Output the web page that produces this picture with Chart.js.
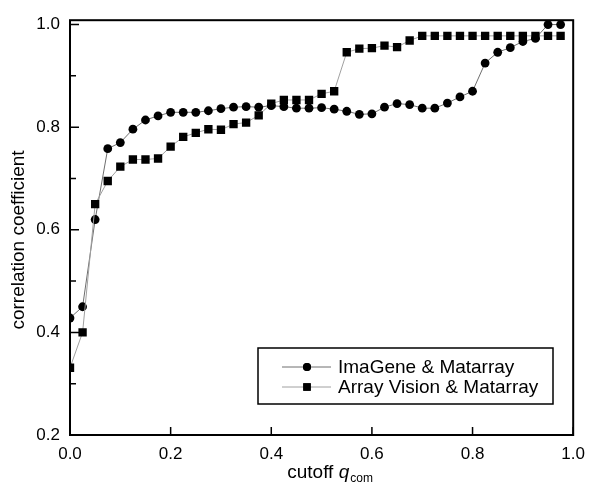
<!DOCTYPE html>
<html><head><meta charset="utf-8">
<script src="https://cdn.jsdelivr.net/npm/chart.js@4/dist/chart.umd.min.js"></script>
<style>html,body{margin:0;padding:0;background:#fff;}#wrap{width:594px;height:484px;position:relative;}</style>
</head><body><div id="wrap"><canvas id="c" width="594" height="484"></canvas></div>
<script>
const cutoffs = [0.000,0.025,0.050,0.075,0.100,0.125,0.150,0.175,0.200,0.225,0.250,0.275,0.300,0.325,0.350,0.375,0.400,0.425,0.450,0.475,0.500,0.525,0.550,0.575,0.600,0.625,0.650,0.675,0.700,0.725,0.750,0.775,0.800,0.825,0.850,0.875,0.900,0.925,0.950,0.975];
const imaGene = [0.428,0.450,0.620,0.758,0.770,0.796,0.814,0.822,0.829,0.829,0.829,0.832,0.836,0.839,0.840,0.839,0.842,0.840,0.837,0.837,0.838,0.835,0.831,0.825,0.826,0.839,0.846,0.844,0.837,0.837,0.847,0.859,0.870,0.925,0.946,0.955,0.967,0.973,1.000,1.000];
const arrayVision = [0.331,0.400,0.650,0.695,0.723,0.737,0.737,0.739,0.762,0.781,0.789,0.796,0.795,0.806,0.809,0.823,0.846,0.853,0.853,0.853,0.865,0.870,0.946,0.953,0.954,0.959,0.956,0.969,0.978,0.978,0.978,0.978,0.978,0.978,0.978,0.978,0.978,0.978,0.978,0.978];
const seriesNames = ['ImaGene & Matarray','Array Vision & Matarray'];
const xTicks = [0.0,0.2,0.4,0.6,0.8,1.0];
const yTicks = [0.2,0.4,0.6,0.8,1.0];
const yMinorTicks = [0.3,0.5,0.7,0.9];
const yTitle = 'correlation coefficient';
const xTitleParts = ['cutoff ', 'q', 'com'];

const FONT = "'Liberation Sans', Arial, sans-serif";
const lineColors = ['#6e6e6e', '#a0a0a0'];
const styles = ['circle', 'rect'];
const radii = [4.4, 5.9];

const framePlugin = {
  id: 'frame',
  afterDatasetsDraw(chart) {
    const {ctx, chartArea: a, scales} = chart;
    ctx.save();
    ctx.strokeStyle = '#000';
    ctx.lineWidth = 2;
    ctx.strokeRect(a.left, a.top, a.right - a.left, a.bottom - a.top);
    ctx.lineWidth = 1.5;
    ctx.beginPath();
    yTicks.forEach(v => { const y = scales.y.getPixelForValue(v); ctx.moveTo(a.left, y); ctx.lineTo(a.left + 9, y); });
    yMinorTicks.forEach(v => { const y = scales.y.getPixelForValue(v); ctx.moveTo(a.left, y); ctx.lineTo(a.left + 6, y); });
    xTicks.forEach(v => { const x = scales.x.getPixelForValue(v); ctx.moveTo(x, a.bottom); ctx.lineTo(x, a.bottom - 8); });
    ctx.stroke();

    // Legend
    const bx = 258, by = 348, bw = 295, bh = 56;
    ctx.lineWidth = 1.5;
    ctx.strokeRect(bx, by, bw, bh);
    const rows = [367, 387];
    ctx.font = '19px ' + FONT;
    ctx.fillStyle = '#000';
    ctx.textBaseline = 'middle';
    ctx.textAlign = 'left';
    seriesNames.forEach((name, i) => {
      const y = rows[i];
      ctx.strokeStyle = lineColors[i];
      ctx.lineWidth = 1;
      ctx.beginPath(); ctx.moveTo(282, y); ctx.lineTo(331, y); ctx.stroke();
      ctx.fillStyle = '#000';
      Chart.helpers.drawPoint(ctx, {pointStyle: styles[i], radius: i === 0 ? 4 : 5.3, borderWidth: 0}, 307, y);
      ctx.fill();
      ctx.fillText(name, 338, y + 1);
    });

    // Y title
    ctx.save();
    ctx.translate(19, 240);
    ctx.rotate(-Math.PI / 2);
    ctx.textAlign = 'center';
    ctx.textBaseline = 'middle';
    ctx.font = '19px ' + FONT;
    ctx.fillText(yTitle, 0, 0);
    ctx.restore();

    // X title
    const f1 = '19px ' + FONT, f2 = 'italic 19px ' + FONT, f3 = '12px ' + FONT;
    ctx.font = f1; const w1 = ctx.measureText(xTitleParts[0]).width;
    ctx.font = f2; const w2 = ctx.measureText(xTitleParts[1]).width;
    ctx.font = f3; const w3 = ctx.measureText(xTitleParts[2]).width;
    let x0 = (a.left + a.right) / 2 - (w1 + w2 + w3) / 2 + 8;
    const ty = 472;
    ctx.textAlign = 'left';
    ctx.textBaseline = 'alphabetic';
    ctx.font = f1; ctx.fillText(xTitleParts[0], x0, ty + 6);
    ctx.font = f2; ctx.fillText(xTitleParts[1], x0 + w1, ty + 6);
    ctx.font = f3; ctx.fillText(xTitleParts[2], x0 + w1 + w2 + 1, ty + 10);
    ctx.restore();
  }
};

const mk = (vals) => cutoffs.map((x, i) => ({x: x, y: vals[i]}));

new Chart(document.getElementById('c'), {
  type: 'line',
  data: {
    datasets: [
      {label: seriesNames[0], data: mk(imaGene), borderColor: lineColors[0], borderWidth: 1, pointStyle: styles[0], pointRadius: radii[0], pointBackgroundColor: '#000', pointBorderColor: '#000', pointBorderWidth: 0, order: 2},
      {label: seriesNames[1], data: mk(arrayVision), borderColor: lineColors[1], borderWidth: 1, pointStyle: styles[1], pointRadius: radii[1], pointBackgroundColor: '#000', pointBorderColor: '#000', pointBorderWidth: 0, order: 1}
    ]
  },
  options: {
    responsive: false,
    animation: false,
    devicePixelRatio: 1,
    layout: {padding: {top: 18, right: 13, left: 0, bottom: 0}},
    plugins: {legend: {display: false}, tooltip: {enabled: false}},
    scales: {
      x: {
        type: 'linear', min: 0, max: 1,
        grid: {display: false, drawTicks: false},
        border: {display: false},
        ticks: {color: '#000', font: {family: FONT, size: 17}, padding: 9, maxRotation: 0, callback: v => Number(v).toFixed(1)},
        afterBuildTicks: s => { s.ticks = xTicks.map(v => ({value: v})); },
        afterFit: s => { s.height = 49; }
      },
      y: {
        type: 'linear', min: 0.2, max: 1.0085,
        grid: {display: false, drawTicks: false},
        border: {display: false},
        ticks: {color: '#000', font: {family: FONT, size: 17}, padding: 10, callback: v => Number(v).toFixed(1)},
        afterBuildTicks: s => { s.ticks = yTicks.map(v => ({value: v})); },
        afterFit: s => { s.width = 70; }
      }
    }
  },
  plugins: [framePlugin]
});
</script>
</body></html>
